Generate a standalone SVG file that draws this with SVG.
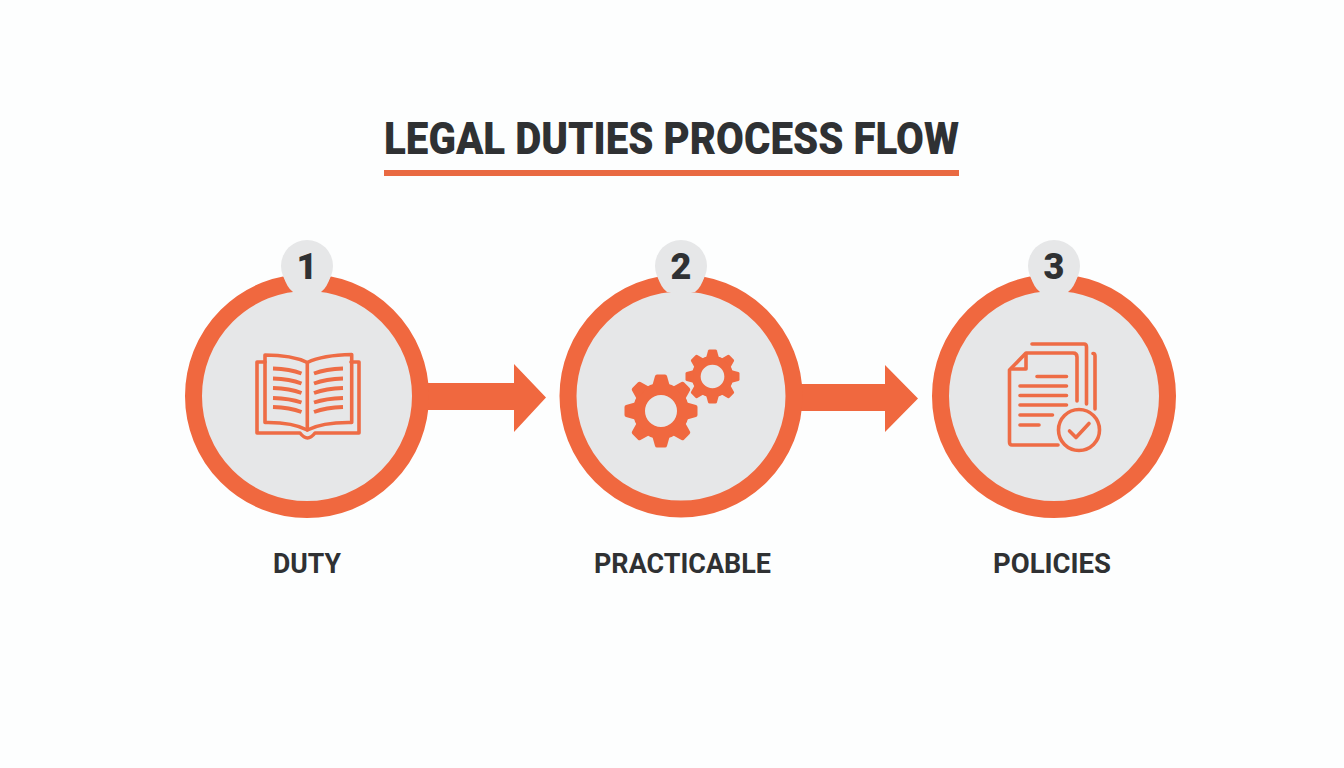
<svg xmlns="http://www.w3.org/2000/svg" width="1344" height="768" viewBox="0 0 1344 768">
<style>
text{font-family:"Roboto","Liberation Sans",Arial,sans-serif;font-weight:900;fill:#2f3133;text-anchor:middle}
.title{font-size:44px}
.label{font-size:28px;font-weight:700}
.num{font-size:36px}
.ring{fill:#e6e7e8;stroke:#f0683f;stroke-width:17}
.badge{fill:#e6e7e8}
.acc{fill:#f0683f}
.ln{fill:none;stroke:#ee6c45;stroke-width:3.6;stroke-linecap:round;stroke-linejoin:round}
.bar{fill:none;stroke:#ee6c45;stroke-width:3.8;stroke-linecap:butt}
.gr{fill:none;stroke:#f0683f}
</style>
<defs>
<g id="tooth"><path d="M-8.5,-26 L-6,-35 Q-5.5,-36.500 -4,-36.500 L4,-36.500 Q5.500,-36.500 6,-35 L8.500,-26Z" class="acc"/></g>
<g id="gear">
<circle r="22" class="gr" stroke-width="12"/>
<use href="#tooth"/><use href="#tooth" transform="rotate(45)"/><use href="#tooth" transform="rotate(90)"/><use href="#tooth" transform="rotate(135)"/><use href="#tooth" transform="rotate(180)"/><use href="#tooth" transform="rotate(225)"/><use href="#tooth" transform="rotate(270)"/><use href="#tooth" transform="rotate(315)"/>
</g>
</defs>
<rect width="1344" height="768" fill="#fdfefe"/>
<g id="title">
<text class="title" x="671.500" y="154" textLength="575" lengthAdjust="spacingAndGlyphs">LEGAL DUTIES PROCESS FLOW</text>
<rect x="384" y="170" width="575" height="6" fill="#e96a42"/>
</g>
<g id="connectors">
<path class="acc" d="M425,383H514V364L546,397.500L514,432V410H425Z"/>
<path class="acc" d="M798,384H885V365L918,398.500L885,432V411H798Z"/>
</g>
<g id="node-1">
<circle class="ring" cx="307" cy="396" r="113.500"/>
<path class="badge" d="M283,275Q287,288 293,292L321,292Q327,288 331,275Z"/>
<circle class="badge" cx="307" cy="266" r="26"/>
<text class="num" x="307" y="279">1</text>
<path class="ln" d="M265,355Q292,355 307.300,362.500Q323,355 351.700,354.500V422.500Q323,422 307.300,430Q292,422 265,422.500Z"/>
<path class="ln" d="M307.300,362.500V430"/>
<path class="ln" d="M265,362H257V433H300Q304,438 307.500,438Q311,438 315,433H359V362H351"/>
<g class="bar"><path d="M273,368.500Q290,369 301.500,373.500M273,378.500Q290,379 301.500,383.500M273,388Q290,388.500 301.500,393M273,398Q290,398.500 301.500,402.500M273,407Q290,407.500 301.500,412"/><path d="M343,368.500Q326,369 314,373.500M343,378.500Q326,379 314,383.500M343,388Q326,388.500 314,393M343,398Q326,398.500 314,402.500M343,407Q326,407.500 314,412"/></g>
<text class="label" x="307" y="573" textLength="68" lengthAdjust="spacingAndGlyphs">DUTY</text>
</g>
<g id="node-2">
<circle class="ring" cx="681" cy="396" r="113"/>
<path class="badge" d="M657,275Q661,288 667,292L695,292Q701,288 705,275Z"/>
<circle class="badge" cx="681" cy="266" r="26"/>
<text class="num" x="681" y="279">2</text>
<use href="#gear" transform="translate(661,411)"/>
<use href="#gear" transform="translate(712.500,376.500) scale(0.74)"/>
<text class="label" x="682.500" y="573" textLength="177" lengthAdjust="spacingAndGlyphs">PRACTICABLE</text>
</g>
<g id="node-3">
<circle class="ring" cx="1054" cy="396" r="113.500"/>
<path class="badge" d="M1030,275Q1034,288 1040,292L1068,292Q1074,288 1078,275Z"/>
<circle class="badge" cx="1054" cy="266" r="26"/>
<text class="num" x="1054" y="279">3</text>
<path class="ln" d="M1032,344H1084Q1086.500,344 1086.500,347V404"/>
<path class="ln" d="M1093,353.500Q1095,353.500 1095,356V409"/>
<path class="ln" d="M1058,445H1012Q1009.500,445 1009.500,442V370L1026,353H1073Q1077,353 1077,357V401"/>
<path class="ln" d="M1026,354V369H1012"/>
<path class="ln" d="M1037,376.500H1066.500M1020,386H1066.500M1020,395.500H1066.500M1020,405H1066.500M1020,415H1052.500M1020,425H1039"/>
<circle class="ln" cx="1079" cy="430" r="20.500"/>
<path class="ln" d="M1069.500,431L1076,437.500L1089,423.500"/>
<text class="label" x="1052" y="573" textLength="118" lengthAdjust="spacingAndGlyphs">POLICIES</text>
</g>
</svg>
